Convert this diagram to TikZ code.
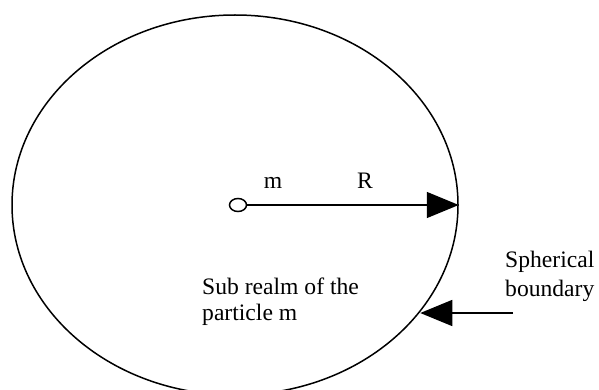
\documentclass[tikz,border=0pt]{standalone}
\usepackage{fontspec}
\setmainfont{Liberation Serif}
\usetikzlibrary{arrows.meta,shapes.geometric}
\tikzset{
  bnd/.style={draw,ellipse,line width=1.5pt,minimum width=446pt,minimum height=380pt,inner sep=0pt},
  ptcl/.style={draw,ellipse,line width=1.5pt,minimum width=17pt,minimum height=13pt,inner sep=0pt,fill=white},
  rarr/.style={line width=1.5pt,-{Triangle[length=32pt,width=26pt]}},
  lbl/.style={font=\fontsize{23.6}{26}\selectfont,inner sep=0pt,align=left}
}
\begin{document}
\begin{tikzpicture}[x=1pt,y=-1pt]
    \useasboundingbox (0,0) rectangle (599,390);
    \node[bnd] (realm) at (235,205) {};
    \node[ptcl] (mass) at (238,205) {};
    \draw[rarr] (mass) -- (realm.east);
    \node[lbl,anchor=base] (mlab) at (273,188) {m};
    \node[lbl,anchor=base] (rlab) at (365,188) {R};
    \node[lbl,anchor=base west] (sublab) at (202,320) {Sub realm of the\\particle m};
    \node[lbl,anchor=base west,font=\fontsize{23.6}{29}\selectfont] (bndlab) at (505,296) {Spherical\\boundary};
    \coordinate (bstart) at (513,313);
    \coordinate (btip) at (realm.-30.4 |- bstart);
    \draw[rarr] (bstart) -- (btip);
\end{tikzpicture}
\end{document}
